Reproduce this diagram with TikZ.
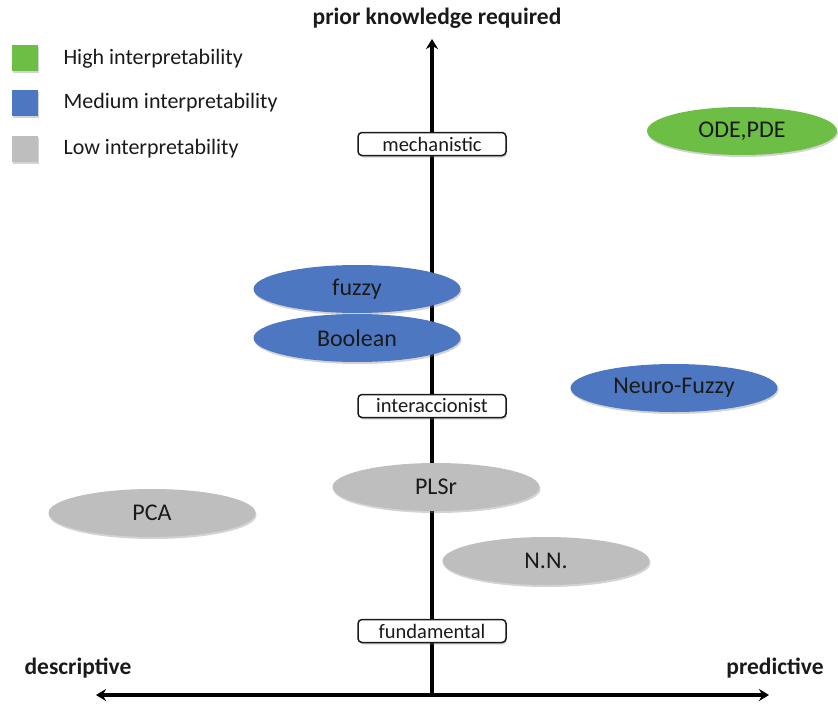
\documentclass[tikz,border=0pt]{standalone}
\usepackage{fontspec}
\setmainfont{Carlito}
\usetikzlibrary{shadows,arrows.meta,shapes.geometric}
\definecolor{hiGreen}{HTML}{6CBE45}
\definecolor{medBlue}{HTML}{4E77C1}
\definecolor{lowGray}{HTML}{BEBEBE}
\definecolor{ink}{HTML}{1A1A1A}
\begin{document}
\begin{tikzpicture}[x=1pt,y=-1pt,text=ink,
  model/.style={ellipse,minimum width=207pt,minimum height=48pt,inner sep=0pt,
    drop shadow={shadow xshift=1pt,shadow yshift=-2pt,opacity=0.35},
    font=\fontsize{24}{26}\selectfont},
  level/.style={draw=ink,line width=1.5pt,fill=white,rounded corners=4pt,
    minimum width=148pt,minimum height=23pt,inner sep=0pt,
    drop shadow={shadow xshift=1pt,shadow yshift=-2pt,opacity=0.3},
    font=\fontsize{20.5}{22}\selectfont},
  swatch/.style={minimum size=26pt,inner sep=0pt,
    drop shadow={shadow xshift=1pt,shadow yshift=-2pt,opacity=0.35}},
  legtext/.style={anchor=west,font=\fontsize{22}{24}\selectfont},
  axislabel/.style={font=\bfseries\fontsize{23.5}{25}\selectfont},
  axis/.style={draw=black,line width=4pt,-{Stealth[length=10pt,width=12pt]}}]
\useasboundingbox (0,0) rectangle (838,704);

% axes
\coordinate (origin) at (432,695);
\coordinate (ytop) at (432,39);
\coordinate (xleft) at (96,695);
\coordinate (xright) at (769,695);
\draw[axis] (origin) -- (ytop);
\draw[axis] (origin) -- (xleft);
\draw[axis] (origin) -- (xright);

\node[axislabel] (ylab) at (437,18) {prior knowledge required};
\node[axislabel] (xlabl) at (78,668) {descriptive};
\node[axislabel] (xlabr) at (775,668) {predictive};

% legend
\node[swatch,fill=hiGreen] (sgreen) at (25,58) {};
\node[swatch,fill=medBlue] (sblue) at (25,103) {};
\node[swatch,fill=lowGray] (sgray) at (25,149) {};
\node[legtext] (lgreen) at (60,59) {High interpretability};
\node[legtext] (lblue) at (60,103) {Medium interpretability};
\node[legtext] (lgray) at (60,149) {Low interpretability};

% levels on the vertical axis
\node[level] (mech) at (432,144) {mechanistic};
\node[level] (inter) at (432,406) {interaccionist};
\node[level] (fund) at (432,631) {fundamental};

% model families
\node[model,fill=hiGreen,minimum width=190pt] (ode) at (742,131) {ODE,PDE};
\node[model,fill=medBlue] (fuzzy) at (357,289) {fuzzy};
\node[model,fill=medBlue] (bool) at (357,338) {Boolean};
\node[model,fill=medBlue] (neuro) at (674,388) {Neuro-Fuzzy};
\node[model,fill=lowGray] (pls) at (436,487) {PLSr};
\node[model,fill=lowGray] (pca) at (152,513) {PCA};
\node[model,fill=lowGray] (nn) at (546,561) {N.N.};
\end{tikzpicture}
\end{document}
